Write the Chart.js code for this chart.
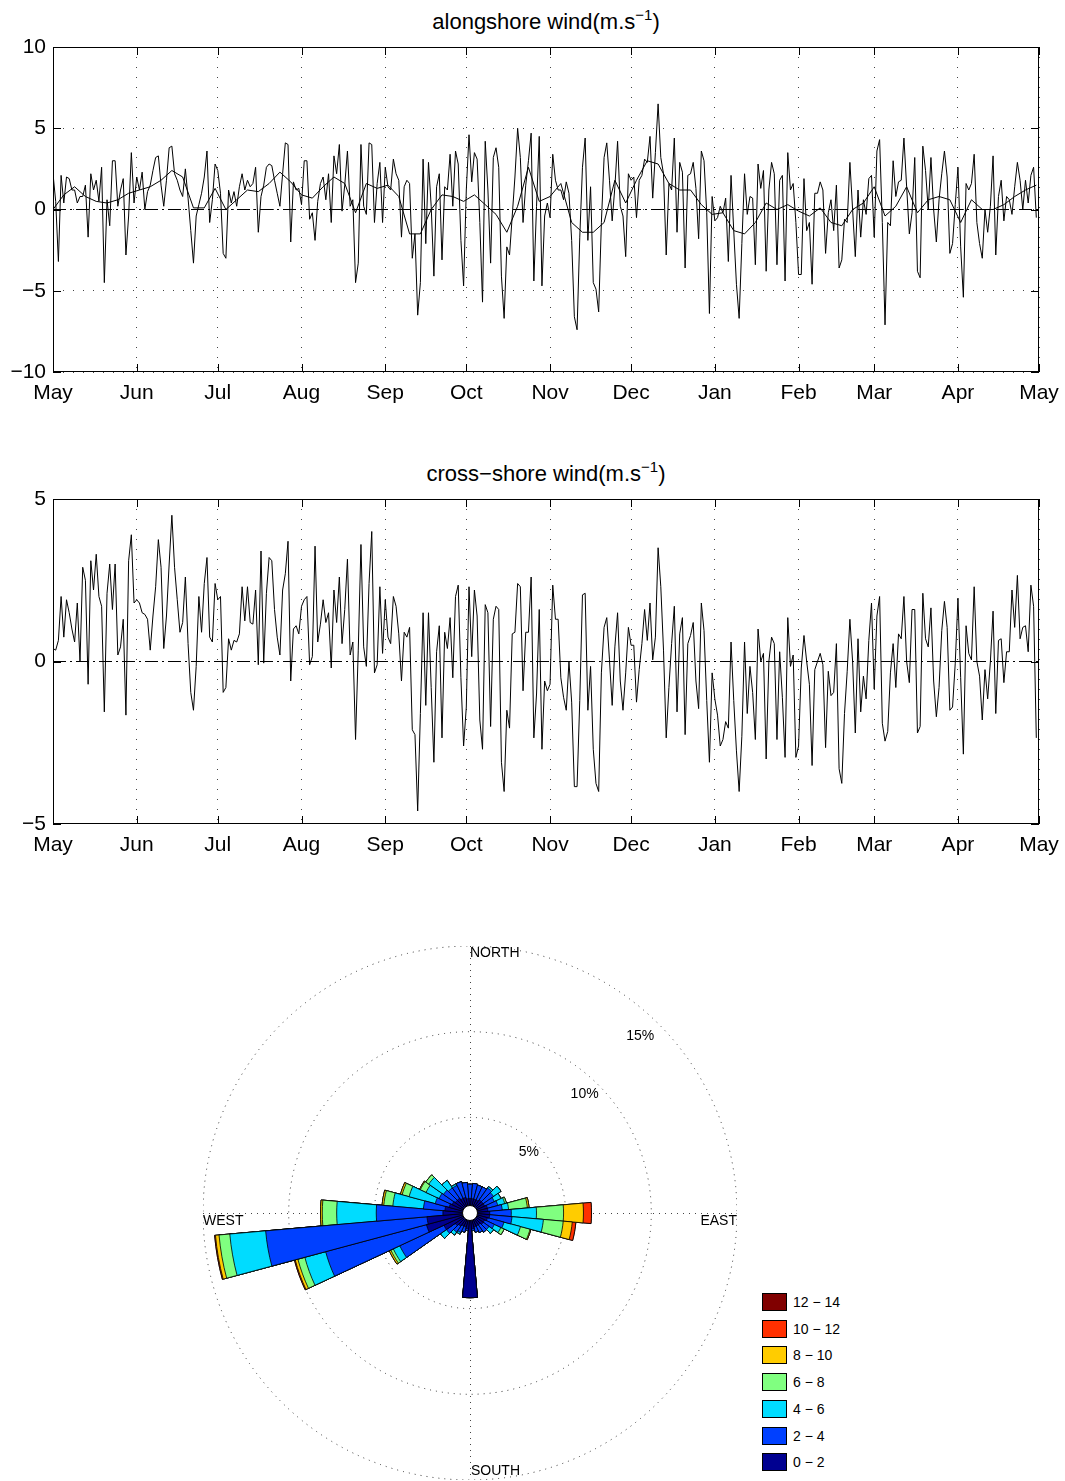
<!DOCTYPE html>
<html>
<head>
<meta charset="utf-8">
<script src="https://cdn.jsdelivr.net/npm/chart.js@4.4.1/dist/chart.umd.min.js"></script>
<style>
  body { margin: 0; background: #fff; }
  #page { position: relative; width: 1065px; height: 1481px; overflow: hidden;
          font-family: "Liberation Sans", Arial, sans-serif; color: #000; }
  canvas { position: absolute; }
  .title { position: absolute; left: 53px; width: 986px; text-align: center;
           font-size: 22px; line-height: 22px; white-space: nowrap; }
  .title .sup { font-size: 15px; position: relative; top: -9px; }
  .leg { position: absolute; left: 762px; font-size: 14px; height: 20px; width: 120px; }
  .leg .sw { position: absolute; left: 0; top: 0; width: 23px; height: 16px; border: 1px solid #000; }
  .leg .tx { position: absolute; left: 31px; top: 0; line-height: 18px; }
</style>
</head>
<body>
<div id="page">
  <div class="title" style="top:11px">alongshore wind(m.s<span class="sup">&minus;1</span>)</div>
  <canvas id="along" width="1065" height="420" style="left:0;top:0"></canvas>
  <div class="title" style="top:463px">cross&minus;shore wind(m.s<span class="sup">&minus;1</span>)</div>
  <canvas id="cross" width="1065" height="420" style="left:0;top:452px"></canvas>
  <canvas id="rose" width="534" height="534" style="left:203px;top:946px"></canvas>
  <div id="legend"></div>
</div>
<script>
// daily alongshore wind (m/s), May -> April
const alongMay = [2.2, 0.5, -3.2, 2.1, 0.4, 2.0, 1.9, 1.2, 1.2, 0.4, 0.8, 0.8, 1.5, -1.7, 2.2, 1.2, 1.8, 0.5, 2.6, -4.5, 0.6, -1.0, 3.0, 3.0, 0.2, 1.2, 1.9, -2.8, -0.4, 3.5, 0.4];
const alongJun = [2.0, 1.2, 2.3, 0.0, 1.1, 1.5, 2.4, 3.2, 3.3, 1.5, 0.2, 1.8, 3.8, 3.9, 2.2, 1.8, 1.2, 0.8, 2.5, 0.7, -1.3, -3.3, -0.4, 0.3, 1.0, 2.0, 3.6, -0.8, 0.6, 2.8];
const alongJul = [2.4, 1.0, -2.7, -3.0, 1.2, 0.4, 1.1, 0.2, 1.4, 2.2, 1.2, 1.8, 1.4, 1.6, 2.6, -1.4, 0.8, 1.5, 2.6, 2.8, 2.7, 1.8, 1.0, 0.2, 2.2, 4.1, 4.0, -2.0, 1.7, 1.2, 1.3];
const alongAug = [0.3, 3.0, 3.0, -0.6, -0.2, -1.9, 0.5, 1.6, 2.0, 0.6, 2.2, -0.8, 3.3, 2.2, 4.0, -0.1, 1.5, 3.6, 0.2, 0.6, -4.5, -3.3, 4.0, 0.2, -0.3, 4.1, 4.0, -0.8, 1.6, 2.9, -0.8];
const alongSep = [2.6, 1.4, 1.2, 3.1, 2.2, 1.8, -1.7, 1.4, 1.8, 1.6, -3.0, -1.5, -6.5, -4.5, 3.1, -2.1, 2.9, 0.2, -4.1, 1.4, 2.2, -3.1, 1.4, 1.2, 3.4, 0.2, 3.6, 2.8, -1.9, -4.7];
const alongOct = [1.2, 4.6, 1.7, 3.5, 3.1, -0.8, -5.7, 4.2, 1.2, -3.3, 3.2, 3.8, 2.6, -4.1, -6.7, -2.3, -2.8, -0.4, 2.0, 5.0, 3.2, -0.8, 1.5, 3.0, 4.7, -4.4, 0.2, 4.5, -4.7, -0.4, 0.4];
const alongNov = [-0.5, 3.4, 1.8, 1.2, 1.2, 0.6, 1.7, 1.0, -1.9, -6.6, -7.4, -1.7, 2.6, 4.4, -1.9, 1.4, -4.5, -4.9, -6.3, -0.8, 3.2, 4.1, 1.8, -0.7, 1.4, 4.2, 0.2, -0.4, -2.9, 2.2];
const alongDec = [1.8, 2.0, -0.5, 1.8, 2.1, 3.1, 2.9, 4.5, 0.7, 3.5, 6.5, 3.2, 2.2, -2.8, 1.6, 1.2, 4.4, -1.4, 2.9, 2.3, -3.6, 2.1, 2.2, 2.9, 1.3, -1.8, 3.6, 3.0, -0.2, -6.4, 0.8];
const alongJan = [-0.7, -0.5, 0.2, -0.2, 0.7, -3.2, 2.1, -1.3, -4.6, -6.7, -2.1, 2.2, -0.3, 0.8, 0.7, -3.4, 2.8, 1.3, 2.4, -3.8, 1.2, 2.9, 2.2, -3.4, 1.8, 2.1, -4.4, 3.5, 1.2, 1.6, -0.8];
const alongFeb = [-4.0, -4.0, 1.9, -1.3, -0.8, -4.6, 1.0, 1.0, 1.7, 1.2, -2.7, -0.2, 0.6, -1.3, 1.5, -3.6, -3.1, -0.6, -0.8, 2.9, 0.0, -2.9, 1.2, -1.7, 0.6, -0.3, 1.9, 2.1];
const alongMar = [-1.7, 3.6, 4.3, -0.8, -7.1, -0.8, -1.0, 3.0, 0.8, 1.7, 1.8, 4.4, 1.4, -1.5, -0.2, 3.2, -3.8, -4.2, 3.9, 2.4, 0.0, 3.2, 0.0, -2.0, 0.6, 2.2, 3.6, 2.0, -2.7, -2.1, 0.3];
const alongApr = [2.6, -2.3, -5.4, 1.6, 1.2, 1.6, 3.4, -0.8, -2.1, -3.0, 0.0, -1.4, 0.2, 3.3, -2.8, 0.8, 1.8, -0.7, 0.8, 0.6, -0.3, 1.4, 2.9, 1.8, 0.0, 1.8, 0.4, 2.1, 2.6, -0.5];

// filtered alongshore wind, one value every 4 days
const smoothStep = 4;
const alongSmooth = [0.0, 0.9, 1.4, 0.8, 0.5, 0.4, 0.6, 1.0, 1.2, 1.4, 1.8, 2.4, 2.0, 0.1, 0.1, 1.3, 0.0, 0.6, 1.2, 1.1,
  1.6, 2.3, 1.7, 0.9, 0.7, 1.4, 2.0, 1.6, -0.2, 1.6, 1.3, 1.5, 0.8, -1.5, -1.5, 0.0, 0.9, 0.8, 0.5, 0.9,
  0.3, -0.3, -1.4, 0.2, 2.6, 0.5, 0.8, 1.6, -0.8, -1.4, -1.4, -0.8, 1.8, 0.4, 1.8, 3.0, 2.8, 1.6, 1.2, 1.2,
  0.3, -0.3, -0.2, -1.3, -1.5, -0.8, 0.4, 0.0, 0.3, -0.1, -0.4, 0.1, -0.8, -1.0, 0.0, 0.4, 1.4, -0.4, 0.2, 1.4,
  -0.2, 0.6, 0.8, 0.6, -0.8, 0.6, 0.0, 0.0, 0.3, 0.8, 1.2, 1.5];

// daily cross-shore wind (m/s), May -> April
const crossMay = [0.4, 0.35, 0.65, 2.0, 0.75, 1.9, 1.5, 1.0, 0.6, 1.8, 0.0, 2.9, 2.5, -0.7, 3.1, 2.2, 3.3, 2.0, 1.7, -1.55, 2.1, 3.0, 1.6, 3.0, 0.2, 0.45, 1.3, -1.65, 3.1, 3.9, 1.8];
const crossJun = [1.9, 1.8, 1.5, 1.45, 1.3, 0.35, 1.4, 2.3, 3.75, 2.9, 0.4, 1.4, 3.0, 4.5, 2.9, 1.9, 0.9, 1.2, 2.6, 0.55, -0.95, -1.5, -0.15, 2.0, 0.9, 2.4, 3.2, 0.75, 0.6, 2.4];
const crossJul = [1.9, 2.0, -0.95, -0.8, 0.7, 0.35, 0.65, 0.6, 0.85, 2.3, 1.25, 2.3, 1.2, 1.15, 2.2, -0.1, 3.4, -0.05, 2.1, 3.2, 3.1, 1.6, 0.75, 0.2, 2.2, 2.7, 3.7, -0.6, 1.0, 1.1, 0.85];
const crossAug = [1.7, 1.9, 2.0, -0.1, 0.15, 3.55, 0.6, 1.15, 1.9, 1.2, 1.5, -0.2, 2.2, 1.2, 2.6, 0.55, 1.6, 3.15, 0.2, 0.6, -2.4, 0.35, 3.6, 0.45, -0.15, 2.4, 4.0, -0.35, -0.1, 2.3, 0.25];
const crossSep = [1.9, 0.75, 0.55, 2.0, 1.7, 0.85, -0.6, 0.9, 0.75, 1.05, -2.1, -2.25, -4.6, -1.6, 1.5, -1.35, 1.5, -0.8, -3.1, 0.3, 1.1, -2.35, 0.9, 0.4, 1.35, -0.5, 2.0, 2.35, -0.5, -2.6];
const crossOct = [-1.4, 2.3, 0.15, 2.2, 1.4, -1.8, -2.7, 1.75, 1.5, -2.0, 1.3, 1.7, 1.6, -3.1, -4.0, -1.5, -2.05, 0.85, 0.9, 2.4, 2.3, -0.9, 0.9, 0.9, 2.6, -2.35, -1.0, 1.6, -2.7, -0.6, -0.9];
const crossNov = [-0.7, 2.35, 1.3, 1.3, -0.5, -1.1, -1.5, 0.0, -1.25, -3.85, -3.85, -1.2, 2.05, 2.1, -1.5, -0.15, -2.7, -3.75, -4.0, -0.35, 1.05, 1.35, 0.05, -1.35, 0.45, 1.5, -0.6, -1.5, -0.35, 1.05];
const crossDec = [0.5, 0.5, -1.25, -0.25, 0.55, 1.6, 0.65, 1.8, 0.05, 0.75, 3.5, 2.3, 0.35, -2.35, -0.8, 0.55, 1.7, -1.55, 0.85, 1.35, -2.25, 0.55, 0.8, 1.2, -0.6, -1.45, 1.8, 0.95, -1.2, -3.1, -0.35];
const crossJan = [-1.15, -1.65, -2.6, -2.4, -1.85, -2.05, 0.6, -1.2, -2.75, -4.0, -2.3, 0.6, -1.6, -0.15, -0.95, -2.4, 1.0, 0.0, 0.25, -3.0, 0.0, 0.75, 0.55, -2.4, 0.3, -1.1, -2.95, 1.35, -0.15, 0.2, -2.95];
const crossFeb = [-2.6, -0.2, 0.8, 0.0, -0.7, -3.2, -0.25, 0.0, 0.25, -0.1, -2.65, -0.3, -1.05, -0.95, 0.55, -3.3, -3.75, -1.6, -0.3, 1.3, 0.0, -2.2, 0.7, -1.55, -0.45, -1.15, 0.65, 1.8];
const crossMar = [-0.85, 1.4, 2.0, -1.9, -2.45, -2.15, -0.35, 0.55, -0.8, 0.85, 0.7, 2.0, 0.0, -0.65, 1.6, 1.6, -2.2, -2.0, 2.1, 0.7, 0.45, 1.65, -0.6, -1.7, -0.8, 0.95, 1.85, 1.05, -1.5, -1.4, -0.05];
const crossApr = [1.95, -0.5, -2.85, 1.1, 0.25, 0.05, 2.3, 0.0, -0.45, -1.8, -0.25, -1.15, 0.0, 1.55, -1.6, 0.65, 0.7, -0.65, 0.3, 0.3, 2.2, 1.05, 2.65, 0.7, 1.05, 1.1, 0.3, 2.35, 1.7, -2.35];

const monthNames = ['May', 'Jun', 'Jul', 'Aug', 'Sep', 'Oct', 'Nov', 'Dec', 'Jan', 'Feb', 'Mar', 'Apr', 'May'];
const alongTicks = [-10, -5, 0, 5, 10];
const crossTicks = [-5, 0, 5];

// wind rose: % of time per direction (0 = north, clockwise) and speed class
const dirs = [0, 10, 20, 30, 40, 50, 60, 70, 80, 90, 100, 110, 120, 130, 140, 150, 160, 170,
  180, 190, 200, 210, 220, 230, 240, 250, 260, 270, 280, 290, 300, 310, 320, 330, 340, 350];
const speedLabels = ['0 \u2212 2', '2 \u2212 4', '4 \u2212 6', '6 \u2212 8', '8 \u2212 10', '10 \u2212 12', '12 \u2212 14'];
const speedColors = ['#000090', '#0040ff', '#00dcff', '#80ff80', '#ffcc00', '#ff3000', '#800000'];
const rose02 = [0.26, 0.26, 0.26, 0.26, 0.36, 0.36, 0.36, 0.47, 0.47, 0.57, 0.57, 0.47, 0.36, 0.36, 0.26, 0.26, 0.26, 0.36,
  4.36, 0.36, 0.26, 0.26, 0.36, 0.47, 1.1, 2.05, 1.94, 1.0, 0.89, 0.68, 0.57, 0.47, 0.47, 0.36, 0.36, 0.26];
const rose24 = [0.84, 0.89, 0.84, 0.84, 0.84, 0.74, 0.63, 0.63, 0.84, 1.26, 1.31, 1.0, 0.63, 0.42, 0.53, 0.42, 0.32, 0.1,
  0, 0.1, 0.32, 0.42, 0.42, 0.63, 2.84, 6.09, 9.45, 3.89, 1.26, 0.84, 0.84, 0.84, 0.74, 0.84, 0.95, 0.95];
const rose46 = [0, 0, 0, 0, 0.1, 0.53, 0.42, 0.42, 0.37, 1.47, 1.84, 1.0, 0.42, 0.32, 0, 0, 0, 0,
  0, 0, 0, 0.1, 0.21, 0.42, 0.42, 1.26, 2.1, 2.31, 1.79, 1.58, 0.84, 1.05, 0.53, 0.1, 0, 0];
const rose68 = [0, 0, 0, 0, 0, 0, 0, 0.1, 1.1, 1.58, 1.16, 0.58, 0.21, 0, 0, 0, 0, 0,
  0, 0, 0, 0, 0, 0, 0.16, 0.42, 0.63, 0.84, 0.53, 0.42, 0.37, 0.21, 0, 0, 0, 0];
const rose810 = [0, 0, 0, 0, 0, 0, 0, 0, 0.1, 1.16, 0.53, 0.05, 0, 0, 0, 0, 0, 0,
  0, 0, 0, 0, 0, 0, 0.1, 0.16, 0.21, 0.1, 0.1, 0.1, 0.05, 0, 0, 0, 0, 0];
const rose1012 = [0, 0, 0, 0, 0, 0, 0, 0, 0, 0.47, 0.21, 0, 0, 0, 0, 0, 0, 0,
  0, 0, 0, 0, 0, 0, 0, 0.05, 0.05, 0, 0, 0, 0, 0, 0, 0, 0, 0];
const rose1214 = [0, 0, 0, 0, 0, 0, 0, 0, 0, 0, 0, 0, 0, 0, 0, 0, 0, 0,
  0, 0, 0, 0, 0, 0, 0, 0, 0, 0, 0, 0, 0, 0, 0, 0, 0, 0];
const ringLevels = [5, 10, 15];

const FONT = '"Liberation Sans", Arial, sans-serif';
Chart.defaults.font.family = FONT;
Chart.defaults.color = '#000';

const alongMonths = [alongMay, alongJun, alongJul, alongAug, alongSep, alongOct, alongNov, alongDec, alongJan, alongFeb, alongMar, alongApr];
const crossMonths = [crossMay, crossJun, crossJul, crossAug, crossSep, crossOct, crossNov, crossDec, crossJan, crossFeb, crossMar, crossApr];
const monthStarts = [0];
alongMonths.forEach(m => monthStarts.push(monthStarts[monthStarts.length - 1] + m.length));
const lastDay = monthStarts[monthStarts.length - 1];

const toXY = arr => arr.map((v, i) => ({x: i, y: v}));
const minus = v => (v < 0 ? '\u2212' + Math.abs(v) : String(v));

// box around the axes and inward ticks, like matlab
const frame = {
  id: 'frame',
  afterDraw(chart) {
    const {ctx, chartArea: a, scales: {x, y}} = chart;
    ctx.save();
    ctx.strokeStyle = '#000';
    ctx.lineWidth = 1;
    ctx.strokeRect(a.left + 0.5, a.top + 0.5, a.right - a.left - 1, a.bottom - a.top - 1);
    ctx.beginPath();
    x.ticks.forEach(t => {
      const px = Math.round(x.getPixelForValue(t.value)) + 0.5;
      ctx.moveTo(px, a.bottom); ctx.lineTo(px, a.bottom - 8);
      ctx.moveTo(px, a.top); ctx.lineTo(px, a.top + 8);
    });
    y.ticks.forEach(t => {
      const py = Math.round(y.getPixelForValue(t.value)) + 0.5;
      ctx.moveTo(a.left, py); ctx.lineTo(a.left + 8, py);
      ctx.moveTo(a.right, py); ctx.lineTo(a.right - 8, py);
    });
    ctx.stroke();
    ctx.restore();
  }
};

function lineChart(id, series, extra, yMin, yMax, yTicks, yGrid) {
  const datasets = [{
    data: toXY(series), borderColor: '#000', borderWidth: 1, pointRadius: 0, tension: 0
  }].concat(extra);
  datasets.push({
    data: [{x: monthStarts[0], y: 0}, {x: lastDay, y: 0}],
    borderColor: '#000', borderWidth: 1, borderDash: [13, 4, 2, 4], pointRadius: 0
  });
  new Chart(document.getElementById(id), {
    type: 'line',
    data: {datasets},
    plugins: [frame],
    options: {
      responsive: false,
      animation: false,
      events: [],
      layout: {padding: {top: 47, right: 26, left: 0, bottom: 0}},
      plugins: {legend: {display: false}, tooltip: {enabled: false}},
      scales: {
        x: {
          type: 'linear', min: 0, max: lastDay,
          afterBuildTicks: s => { s.ticks = monthStarts.map(v => ({value: v})); },
          afterFit: s => { s.height = 48; s.paddingLeft = 0; s.paddingRight = 0; },
          ticks: {
            autoSkip: false, maxRotation: 0, minRotation: 0, padding: 9,
            font: {size: 21, family: FONT}, color: '#000',
            callback: (v, i) => monthNames[i]
          },
          grid: {display: true, drawTicks: false, color: '#444', lineWidth: 1},
          border: {display: false, dash: [1, 9]}
        },
        y: {
          min: yMin, max: yMax,
          afterBuildTicks: s => { s.ticks = yTicks.map(v => ({value: v})); },
          afterFit: s => { s.width = 53; },
          ticks: {padding: 7, font: {size: 21, family: FONT}, color: '#000', callback: v => minus(v)},
          grid: {display: yGrid, drawTicks: false, color: '#444', lineWidth: 1},
          border: {display: false, dash: [1, 9]}
        }
      }
    }
  });
}

lineChart('along', alongMonths.flat(), [{
  data: alongSmooth.map((v, i) => ({x: i * smoothStep, y: v})),
  borderColor: '#000', borderWidth: 1, pointRadius: 0, tension: 0
}], -10, 10, alongTicks, true);

lineChart('cross', crossMonths.flat(), [], -5, 5, crossTicks, false);

// wind rose: stacked sectors drawn as cumulative polar areas, smallest on top
const roseBins = [rose02, rose24, rose46, rose68, rose810, rose1012, rose1214];
const cumulative = [];
roseBins.forEach((bin, k) => {
  cumulative.push(bin.map((v, i) => v + (k ? cumulative[k - 1][i] : 0)));
});

const roseDecor = {
  id: 'roseDecor',
  beforeDatasetsDraw(chart) {
    const {ctx} = chart;
    const r = chart.scales.r;
    const R = r.drawingArea;
    ctx.save();
    ctx.strokeStyle = '#444';
    ctx.lineWidth = 1;
    ctx.setLineDash([1, 5]);
    ctx.beginPath();
    ctx.moveTo(r.xCenter - R, r.yCenter + 0.5); ctx.lineTo(r.xCenter + R, r.yCenter + 0.5);
    ctx.moveTo(r.xCenter + 0.5, r.yCenter - R); ctx.lineTo(r.xCenter + 0.5, r.yCenter + R);
    ctx.stroke();
    ctx.restore();
  },
  afterDatasetsDraw(chart) {
    const {ctx} = chart;
    const r = chart.scales.r;
    const R = r.drawingArea;
    const cx = r.xCenter, cy = r.yCenter;
    ctx.save();
    ctx.beginPath();
    ctx.arc(cx, cy, 7.5, 0, Math.PI * 2);
    ctx.fillStyle = '#fff';
    ctx.fill();
    ctx.strokeStyle = '#000';
    ctx.lineWidth = 1;
    ctx.stroke();
    ctx.fillStyle = '#000';
    ctx.font = '14px ' + FONT;
    ctx.textBaseline = 'middle';
    ctx.textAlign = 'center';
    ringLevels.forEach(v => {
      const d = r.getDistanceFromCenterForValue(v) - 5;
      ctx.fillText(v + '%', cx + d * 0.65, cy - d * 0.675);
    });
    ctx.textAlign = 'left';
    ctx.fillText('NORTH', cx, cy - R + 7);
    ctx.fillText('SOUTH', cx + 1, cy + R - 9);
    ctx.fillText('WEST', cx - R, cy + 8);
    ctx.textAlign = 'right';
    ctx.fillText('EAST', cx + R, cy + 8);
    ctx.restore();
  }
};

new Chart(document.getElementById('rose'), {
  type: 'polarArea',
  data: {
    labels: dirs,
    datasets: cumulative.map((vals, k) => ({
      label: speedLabels[k],
      data: vals,
      backgroundColor: speedColors[k],
      borderColor: '#000',
      borderWidth: 0.8
    }))
  },
  plugins: [roseDecor],
  options: {
    responsive: false,
    animation: false,
    events: [],
    layout: {padding: 0},
    plugins: {legend: {display: false}, tooltip: {enabled: false}},
    scales: {
      r: {
        // zero sits a little off the centre, as in the original rose
        min: -0.58, max: 15, startAngle: -5,
        afterBuildTicks: s => { s.ticks = [s.min].concat(ringLevels).map(v => ({value: v})); },
        ticks: {display: false},
        pointLabels: {display: false},
        angleLines: {display: false},
        grid: {circular: true, color: '#333', lineWidth: 1},
        border: {dash: [1, 5]}
      }
    }
  }
});

// legend, highest class on top
const legend = document.getElementById('legend');
for (let k = speedLabels.length - 1; k >= 0; k--) {
  const row = document.createElement('div');
  row.className = 'leg';
  row.style.top = (1293 + (speedLabels.length - 1 - k) * 26.7) + 'px';
  row.innerHTML = '<div class="sw" style="background:' + speedColors[k] + '"></div><div class="tx">' + speedLabels[k] + '</div>';
  legend.appendChild(row);
}
</script>
</body>
</html>
